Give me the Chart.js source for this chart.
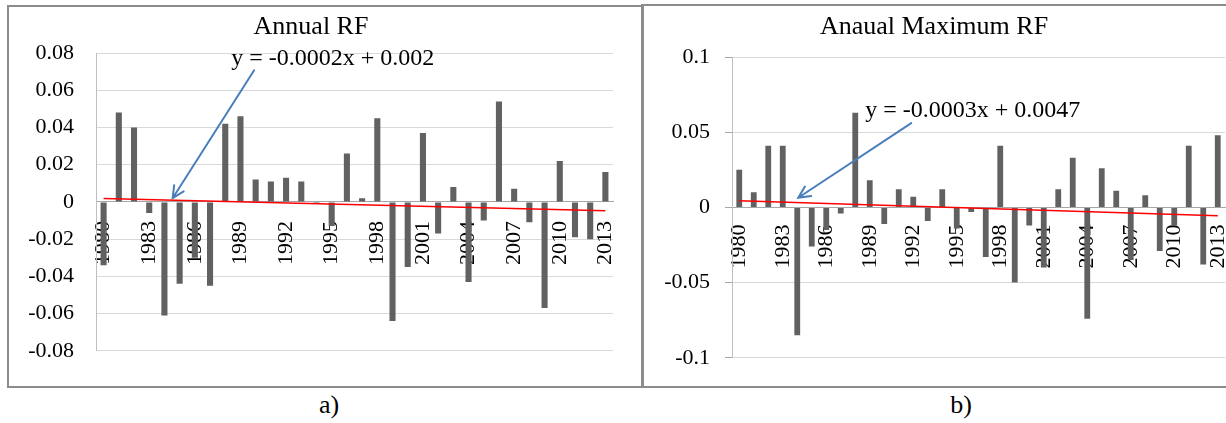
<!DOCTYPE html>
<html>
<head>
<meta charset="utf-8">
<script src="https://cdn.jsdelivr.net/npm/chart.js@4.4.1/dist/chart.umd.min.js"></script>
<style>
  body { margin: 0; width: 1226px; height: 423px; background: #fff; position: relative; overflow: hidden; font-family: "Liberation Serif", "Times New Roman", serif; }
  .panel { position: absolute; border: 2px solid #8c8c8c; box-sizing: border-box; }
  #panel-a { left: 7px; top: 5px; width: 637px; height: 383px; }
  #panel-b { left: 641px; top: 4px; width: 600px; height: 384px; }
  .panel canvas { position: absolute; left: 0; top: 0; }
  .caption { position: absolute; top: 390px; width: 80px; text-align: center; font-size: 26px; line-height: 30px; color: #000; }
</style>
</head>
<body>
<div class="panel" id="panel-a"><canvas id="annual-rf" width="633" height="379"></canvas></div>
<div class="panel" id="panel-b"><canvas id="max-rf" width="583" height="380"></canvas></div>
<div class="caption" style="left: 289px;">a)</div>
<div class="caption" style="left: 921px;">b)</div>
<script>
const years = ["1980", "1981", "1982", "1983", "1984", "1985", "1986", "1987", "1988", "1989",
  "1990", "1991", "1992", "1993", "1994", "1995", "1996", "1997", "1998", "1999",
  "2000", "2001", "2002", "2003", "2004", "2005", "2006", "2007", "2008", "2009",
  "2010", "2011", "2012", "2013"];
const shownYears = ["1980", "1983", "1986", "1989", "1992", "1995", "1998", "2001", "2004", "2007", "2010", "2013"];

const annualRF = [-0.034, 0.048, 0.040, -0.006, -0.061, -0.044, -0.030, -0.045, 0.042, 0.046,
  0.012, 0.011, 0.013, 0.011, -0.001, -0.013, 0.026, 0.002, 0.045, -0.064,
  -0.035, 0.037, -0.017, 0.008, -0.043, -0.010, 0.054, 0.007, -0.011, -0.057,
  0.022, -0.019, -0.020, 0.016];
const maxRF = [0.025, 0.010, 0.041, 0.041, -0.085, -0.026, -0.015, -0.004, 0.063, 0.018,
  -0.011, 0.012, 0.007, -0.009, 0.012, -0.014, -0.003, -0.033, 0.041, -0.050,
  -0.012, -0.040, 0.012, 0.033, -0.074, 0.026, 0.011, -0.035, 0.008, -0.029,
  -0.012, 0.041, -0.038, 0.048];

// trend line values at first and last year
const annualTrend = [0.0018, -0.0048];
const maxTrend = [0.0044, -0.0055];

const annualTicks = ["-0.08", "-0.06", "-0.04", "-0.02", "0", "0.02", "0.04", "0.06", "0.08"];
const maxTicks = ["-0.1", "-0.05", "0", "0.05", "0.1"];

const annualEquation = "y = -0.0002x + 0.002";
const maxEquation = "y = -0.0003x + 0.0047";

const serif = "'Liberation Serif', 'Times New Roman', serif";
const barColor = "#616161";
const gridColor = "#d9d9d9";

// arrow + equation label, placed in data units (category index, value)
const trendNote = {
  id: "trendNote",
  afterDatasetsDraw(chart, args, opts) {
    const { ctx } = chart;
    const x = chart.scales.x;
    const y = chart.scales.y;
    const x1 = x.getPixelForValue(opts.from[0]);
    const y1 = y.getPixelForValue(opts.from[1]);
    const x2 = x.getPixelForValue(opts.to[0]);
    const y2 = y.getPixelForValue(opts.to[1]);
    const angle = Math.atan2(y2 - y1, x2 - x1);
    const head = 13;

    ctx.save();
    ctx.strokeStyle = "#4a7ebb";
    ctx.lineWidth = 2;
    ctx.lineCap = "round";
    ctx.beginPath();
    ctx.moveTo(x1, y1);
    ctx.lineTo(x2, y2);
    ctx.moveTo(x2 - head * Math.cos(angle - 0.45), y2 - head * Math.sin(angle - 0.45));
    ctx.lineTo(x2, y2);
    ctx.lineTo(x2 - head * Math.cos(angle + 0.45), y2 - head * Math.sin(angle + 0.45));
    ctx.stroke();

    ctx.fillStyle = "#000";
    ctx.font = "24px " + serif;
    ctx.textAlign = "center";
    ctx.textBaseline = "middle";
    ctx.fillText(opts.text, x.getPixelForValue(opts.label[0]), y.getPixelForValue(opts.label[1]));
    ctx.restore();
  },
};

function trendData(ends) {
  return years.map((yr, i) => (i === 0 ? ends[0] : i === years.length - 1 ? ends[1] : null));
}

function makePanel(canvas, cfg) {
  return new Chart(canvas, {
    data: {
      labels: years,
      datasets: [
        {
          type: "line",
          data: trendData(cfg.trend),
          borderColor: "#ff0000",
          borderWidth: 1.5,
          pointRadius: 0,
          spanGaps: true,
          order: 0,
        },
        {
          type: "bar",
          data: cfg.values,
          backgroundColor: barColor,
          barPercentage: 0.4,
          categoryPercentage: 1,
          order: 1,
        },
      ],
    },
    plugins: [trendNote],
    options: {
      responsive: false,
      animation: false,
      layout: { padding: cfg.padding },
      scales: {
        x: {
          position: { y: 0 },
          z: 1,
          // the rotated year labels sit inside the plot, so they should not shrink it
          afterFit(scale) {
            scale.paddingLeft = 0;
            scale.paddingRight = 0;
          },
          grid: { display: false, drawTicks: false },
          border: { display: true, color: "#a6a6a6", width: 1 },
          ticks: {
            autoSkip: false,
            minRotation: 90,
            maxRotation: 90,
            padding: cfg.labelGap,
            color: "#000",
            font: { family: serif, size: 22 },
            callback(value, index) {
              const label = years[index];
              return shownYears.includes(label) ? label : "";
            },
          },
        },
        y: {
          min: cfg.min,
          max: cfg.max,
          afterFit(scale) {
            scale.width = cfg.axisWidth;
          },
          grid: { color: gridColor, lineWidth: 1, drawTicks: cfg.tickMarks, tickLength: 7, tickColor: "#a6a6a6" },
          border: { display: true, color: "#bfbfbf", width: 1 },
          ticks: {
            stepSize: cfg.step,
            padding: cfg.tickMarks ? 15 : 22,
            color: "#000",
            font: { family: serif, size: 22 },
            callback(value, index) {
              return cfg.tickLabels[index];
            },
          },
        },
      },
      plugins: {
        legend: { display: false },
        tooltip: { enabled: false },
        title: {
          display: true,
          text: cfg.title,
          color: "#000",
          font: { family: serif, size: 26, weight: "normal" },
          padding: cfg.titlePadding,
        },
        trendNote: cfg.note,
      },
    },
  });
}

makePanel(document.getElementById("annual-rf"), {
  title: "Annual RF",
  values: annualRF,
  trend: annualTrend,
  min: -0.08,
  max: 0.08,
  step: 0.02,
  tickLabels: annualTicks,
  tickMarks: false,
  axisWidth: 87,
  labelGap: 19,
  padding: { left: 0, right: 29, top: 0, bottom: 28 },
  titlePadding: { top: 5, bottom: 9.8 },
  note: { from: [9.9, 0.0707], to: [4.54, 0.002], label: [15.07, 0.0767], text: annualEquation },
});

makePanel(document.getElementById("max-rf"), {
  title: "Anaual Maximum RF",
  values: maxRF,
  trend: maxTrend,
  min: -0.1,
  max: 0.1,
  step: 0.05,
  tickLabels: maxTicks,
  tickMarks: true,
  axisWidth: 89,
  labelGap: 17,
  padding: { left: 0, right: 1, top: 0, bottom: 18 },
  titlePadding: { top: 6, bottom: 13.8 },
  note: { from: [11.86, 0.056], to: [4.07, 0.0064], label: [16.1, 0.0643], text: maxEquation },
});
</script>
</body>
</html>
